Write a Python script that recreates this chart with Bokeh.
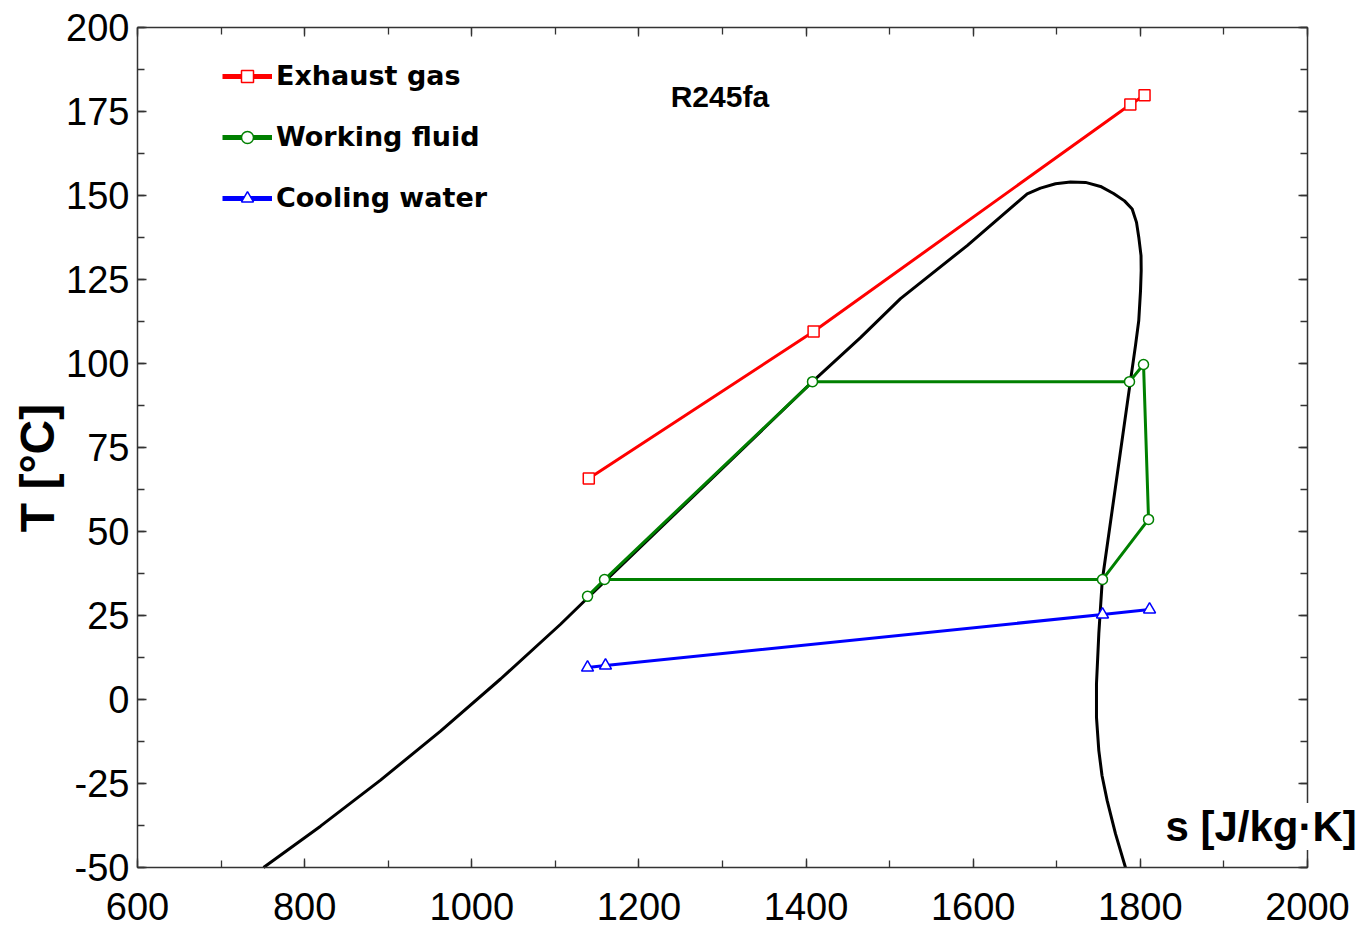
import math
from bokeh.plotting import figure
from bokeh.models import (Range1d, LinearAxis, SingleIntervalTicker, Label, Legend, LegendItem,
                          ColumnDataSource, PrintfTickFormatter)
from bokeh.embed import file_html
from bokeh.resources import INLINE

# ---- data ----
x_tick_interval = 200
y_tick_interval = 25
x_limits = [600, 2000]
y_limits = [-50, 200]

# saturation dome of R245fa (s [J/kg K], T [C])
sat_s = [750.8, 819.0, 890.8, 962.6, 1034.4, 1106.2, 1138.5, 1407.7, 1465.1, 1513.0,
         1592.8, 1664.6, 1680.5, 1698.5, 1716.4, 1734.4, 1752.3, 1767.9, 1781.0, 1790.2,
         1795.4, 1798.1, 1800.8, 1801.0, 1800.2, 1798.1, 1794.2, 1788.2, 1754.4, 1750.3,
         1747.5, 1747.5, 1750.3, 1754.1, 1760.3, 1770.3, 1782.2]
sat_T = [-50.0, -37.7, -24.0, -9.4, 6.1, 22.4, 30.2, 94.6, 107.7, 119.3,
         135.1, 150.5, 152.2, 153.5, 154.0, 153.9, 152.7, 150.6, 148.4, 146.0,
         142.0, 137.6, 132.1, 127.7, 121.7, 112.8, 105.4, 94.9, 35.4, 19.6,
         4.7, -5.3, -15.2, -22.6, -30.1, -40.0, -50.0]

gas_s = [1140, 1409, 1788, 1805]
gas_T = [65.8, 109.5, 177.1, 179.8]

wf_s = [1138.5, 1158.8, 1407.7, 1787.0, 1803.8, 1809.8, 1754.7]
wf_T = [30.7, 35.7, 94.6, 94.6, 99.7, 53.6, 35.7]

cw_s = [1138.5, 1160, 1754.7, 1811]
cw_T = [9.5, 10.1, 25.3, 26.8]

series_names = ["Exhaust gas", "Working fluid", "Cooling water"]
fluid_name = "R245fa"
x_label = "s [J/kg·K]"
y_label = "T [°C]"

# ---- layout: the frame covers the whole canvas, the axes sit at fixed places ----
W, H = 1365, 926
AX_LEFT_PX, AX_RIGHT_PX = 137, 1307      # canvas x of s=600 and s=2000
AX_TOP_PX, AX_BOTTOM_PX = 27, 867        # canvas y of T=200 and T=-50
sx = (AX_RIGHT_PX - AX_LEFT_PX) / (x_limits[1] - x_limits[0])
sy = (AX_BOTTOM_PX - AX_TOP_PX) / (y_limits[1] - y_limits[0])
x_start = x_limits[0] - AX_LEFT_PX / sx
x_end = x_limits[0] + (W - AX_LEFT_PX) / sx
y_end = y_limits[1] + AX_TOP_PX / sy
y_start = y_limits[0] - (H - AX_BOTTOM_PX) / sy

p = figure(width=W, height=H, output_backend="svg", toolbar_location=None,
           x_range=Range1d(x_start, x_end), y_range=Range1d(y_start, y_end),
           min_border_left=0, min_border_right=0, min_border_top=0, min_border_bottom=0,
           x_axis_type=None, y_axis_type=None)
p.grid.visible = False
p.outline_line_color = None
p.background_fill_color = "white"
p.border_fill_color = "white"

tick_font = "Liberation Sans"

def style_axis(ax, show_labels):
    ax.axis_line_color = "#333333"
    ax.axis_line_width = 1.5
    ax.major_tick_in = 9
    ax.major_tick_out = 0
    ax.minor_tick_in = 7
    ax.minor_tick_out = 0
    ax.major_tick_line_color = "#333333"
    ax.minor_tick_line_color = "#333333"
    ax.major_tick_line_width = 1.3
    ax.minor_tick_line_width = 1.3
    if show_labels:
        ax.major_label_text_font = tick_font
        ax.major_label_text_font_size = "38px"
        ax.major_label_text_color = "black"
    else:
        ax.major_label_text_font_size = "0px"
        ax.major_label_text_alpha = 0
        ax.major_label_standoff = 0

xb = LinearAxis(ticker=SingleIntervalTicker(interval=x_tick_interval, num_minor_ticks=2),
                bounds=tuple(x_limits), formatter=PrintfTickFormatter(format="%d"),
                fixed_location=y_limits[0])
style_axis(xb, True)
xb.major_label_standoff = 25
p.add_layout(xb, "below")

xt = LinearAxis(ticker=SingleIntervalTicker(interval=x_tick_interval, num_minor_ticks=2),
                bounds=tuple(x_limits), fixed_location=y_limits[1])
style_axis(xt, False)
p.add_layout(xt, "above")

yl = LinearAxis(ticker=SingleIntervalTicker(interval=y_tick_interval, num_minor_ticks=2),
                formatter=PrintfTickFormatter(format="%d"), bounds=tuple(y_limits),
                fixed_location=x_limits[0])
style_axis(yl, True)
yl.major_label_standoff = 8
p.add_layout(yl, "left")

yr = LinearAxis(ticker=SingleIntervalTicker(interval=y_tick_interval, num_minor_ticks=2),
                bounds=tuple(y_limits), fixed_location=x_limits[1])
style_axis(yr, False)
p.add_layout(yr, "right")

# saturation curve
p.line(sat_s, sat_T, line_color="black", line_width=3, line_join="round")

# working fluid cycle (closed back to the condensed liquid point)
wf_line_s = wf_s + [wf_s[1]]
wf_line_T = wf_T + [wf_T[1]]
p.line(wf_line_s, wf_line_T, line_color="#008000", line_width=3)
p.scatter(wf_s, wf_T, marker="circle", size=10, line_color="#008000", fill_color="white", line_width=1.5)

# exhaust gas
p.line(gas_s, gas_T, line_color="#ff0000", line_width=3)
p.scatter(gas_s, gas_T, marker="square", size=11, line_color="#ff0000", fill_color="white", line_width=1.5)

# cooling water
p.line(cw_s, cw_T, line_color="#0000ff", line_width=3)
p.scatter(cw_s, cw_T, marker="triangle", size=12, line_color="#0000ff", fill_color="white", line_width=1.5)

# legend (renderers with no visible points, thicker lines)
colors = ["#ff0000", "#008000", "#0000ff"]
markers = ["square", "circle", "triangle"]
items = []
for name, c, m in zip(series_names, colors, markers):
    src = ColumnDataSource(data=dict(x=[float("nan")], y=[float("nan")]))
    lr = p.line("x", "y", source=src, line_color=c, line_width=5)
    sr = p.scatter("x", "y", source=src, marker=m, line_color=c, fill_color="white", line_width=1.5)
    items.append(LegendItem(label=name, renderers=[lr, sr]))

legend = Legend(items=items, location=(AX_LEFT_PX + 85, H - AX_TOP_PX - 186),
                glyph_width=50, glyph_height=30, label_height=30, spacing=30,
                padding=0, margin=0, label_standoff=4,
                label_text_font="DejaVu Sans", label_text_font_style="bold",
                label_text_font_size="27px", label_text_color="black",
                border_line_color=None, background_fill_alpha=0)
p.add_layout(legend, "center")

# texts
p.add_layout(Label(x=1238, y=179.5, text=fluid_name, text_font="Liberation Sans",
                   text_font_style="bold", text_font_size="30px", text_color="black",
                   text_baseline="middle", text_align="left"))
p.add_layout(Label(x=1830, y=-37.8, text=x_label, text_font="Liberation Sans",
                   text_font_style="bold", text_font_size="42px", text_color="black",
                   text_baseline="middle", text_align="left", background_fill_color="white"))
p.add_layout(Label(x=480.3, y=68.9, text=y_label, text_font="Liberation Sans",
                   text_font_style="bold", text_font_size="48px", text_color="black",
                   angle=math.pi / 2, text_baseline="middle", text_align="center"))

open("out.html", "w").write(file_html(p, INLINE))
